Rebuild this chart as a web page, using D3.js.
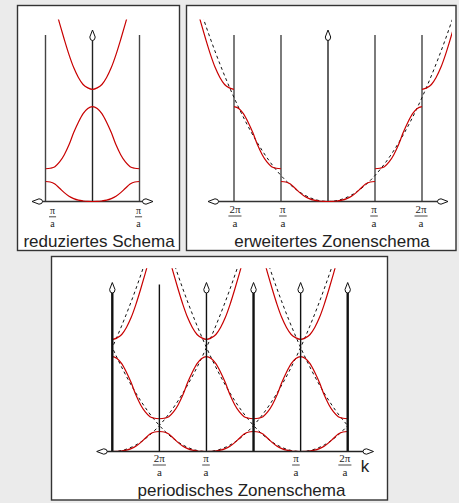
<!DOCTYPE html>
<html><head><meta charset="utf-8">
<script src="https://cdn.jsdelivr.net/npm/d3@7"></script>
<style>
html,body{margin:0;padding:0;background:#ebebeb;}
svg{display:block;}
</style></head><body>
<svg id="c" width="459" height="503"></svg>
<script>
// ---------- data (k in units of pi/a, E in units of the free-electron energy at k = pi/a) ----------
const kRed  = [0, 0.1, 0.2, 0.3, 0.4, 0.5, 0.6, 0.7, 0.8, 0.9, 1.0];
const band1 = [0, 0.004, 0.02, 0.05, 0.11, 0.2, 0.34, 0.51, 0.67, 0.75, 0.77];
const band2 = [3.65, 3.58, 3.38, 3.05, 2.65, 2.18, 1.8, 1.52, 1.34, 1.28, 1.26];
const band3 = [4.31, 4.37, 4.5, 4.77, 5.15, 5.65, 6.23, 6.85, 7.5, null, null];
const kFree = [0, 0.25, 0.5, 0.75, 1, 1.25, 1.5, 1.75, 2, 2.25, 2.5, 2.75];
const eFree = [0, 0.0625, 0.25, 0.5625, 1, 1.5625, 2.25, 3.0625, 4, 5.0625, 6.25, 7.5625];
const gammaCenters = [-2, 0, 2, 4, 6];          // periodic scheme: zone centres (in pi/a)

const lines1 = [-1, 1];                          // reduced scheme: zone edges
const labels1 = ["π", "π"];
const labelK1 = [-0.85, 0.98];
const lines2 = [-2, -1, 1, 2];                   // extended scheme
const labels2 = ["2π", "π", "π", "2π"];
const labelK2 = [-1.98, -0.96, 0.98, 1.98];
const lines3 = [0, 1, 2, 3, 4, 5];               // periodic scheme
const thick3 = [true, false, false, true, false, true];
const arrow3 = [true, false, true, true, true, true];
const labels3 = ["2π", "π", "π", "2π"];
const labelK3 = [1.0, 1.99, 3.9, 4.94];
const titles = ["reduziertes Schema", "erweitertes Zonenschema", "periodisches Zonenschema"];
const denom = "a";
const axisName = "k";

// ---------- helpers ----------
const svg = d3.select('#c');
const RED = '#c80000';
const SANS = "'Liberation Sans', Arial, Helvetica, sans-serif";
const SERIF = "'Liberation Serif', 'Times New Roman', serif";

function pts(ks, es, sign, offset) {
  const out = [];
  ks.forEach((k, i) => { if (es[i] != null) out.push([offset + sign * k, es[i]]); });
  return out.sort((a, b) => a[0] - b[0]);
}
function symPts(ks, es, offset) {
  const left = pts(ks, es, -1, offset), right = pts(ks, es, 1, offset);
  return left.concat(right.slice(1));
}
function arrow(g, x, y, dir) {
  const rot = dir === 'up' ? 0 : dir === 'left' ? -90 : 90;
  g.append('path').attr('d', "M0,0 L2.7,7 Q2.6,10.5 0,10.5 Q-2.6,10.5 -2.7,7 Z")
    .attr('transform', `translate(${x},${y}) rotate(${rot})`)
    .attr('fill', '#fff').attr('stroke', '#111').attr('stroke-width', 1);
}
function frac(g, x, yNum, yBar, yDen, num, fs) {
  const t = g.append('text').attr('x', x).attr('y', yNum).attr('text-anchor', 'middle')
    .attr('font-family', SERIF).attr('font-size', fs).attr('fill', '#222').text(num);
  const w = t.node().getComputedTextLength() + 2;
  g.append('line').attr('x1', x - w / 2).attr('x2', x + w / 2).attr('y1', yBar).attr('y2', yBar)
    .attr('stroke', '#333').attr('stroke-width', 0.9);
  g.append('text').attr('x', x).attr('y', yDen).attr('text-anchor', 'middle')
    .attr('font-family', SERIF).attr('font-size', fs).attr('fill', '#222').text(denom);
}
function clip(id, x0, x1, y0, y1) {
  svg.append('clipPath').attr('id', id).append('rect')
    .attr('x', x0).attr('y', y0).attr('width', x1 - x0).attr('height', y1 - y0);
}

// panels
const panels = [
  {x: 17.5, y: 5.5, w: 162, h: 245},
  {x: 186.5, y: 5.5, w: 269.5, h: 245},
  {x: 51.5, y: 256.5, w: 336, h: 243.5}
];
panels.forEach(p => svg.append('rect').attr('x', p.x).attr('y', p.y).attr('width', p.w).attr('height', p.h)
  .attr('fill', '#fff').attr('stroke', '#333').attr('stroke-width', 1.4));

// ---------- panel 1: reduced scheme ----------
{
  const g = svg.append('g');
  const x = d3.scaleLinear().domain([-1, 1]).range([45.5, 139.5]);
  const y = d3.scaleLinear().domain([0, 7]).range([201.5, 19.5]);
  const line = d3.line().x(d => x(d[0])).y(d => y(d[1])).curve(d3.curveMonotoneX);
  clip('c1', x(-1), x(1), y(7), y(0) + 2);
  lines1.forEach(k => g.append('line').attr('x1', x(k)).attr('x2', x(k)).attr('y1', 35).attr('y2', y(0))
    .attr('stroke', '#444').attr('stroke-width', 1.4));
  g.append('line').attr('x1', x(0)).attr('x2', x(0)).attr('y1', 40).attr('y2', y(0)).attr('stroke', '#222').attr('stroke-width', 1.4);
  g.append('line').attr('x1', 42).attr('x2', 143).attr('y1', y(0)).attr('y2', y(0)).attr('stroke', '#333').attr('stroke-width', 1.4);
  const cg = g.append('g').attr('clip-path', 'url(#c1)');
  [band1, band2, band3].forEach(b => cg.append('path').attr('d', line(symPts(kRed, b, 0)))
    .attr('fill', 'none').attr('stroke', RED).attr('stroke-width', 1.2));
  arrow(g, x(0), 30, 'up');
  arrow(g, 32, y(0), 'left');
  arrow(g, 153, y(0), 'right');
  labelK1.forEach((k, i) => frac(g, x(k), 214, 216.8, 227, labels1[i], 10));
  g.append('text').attr('x', 99).attr('y', 247).attr('text-anchor', 'middle').attr('font-family', SANS)
    .attr('font-size', 17).attr('fill', '#222').text(titles[0]);
}

// ---------- panel 2: extended zone scheme ----------
{
  const g = svg.append('g');
  const x = d3.scaleLinear().domain([-2, 2]).range([234, 422]);
  const y = d3.scaleLinear().domain([0, 7]).range([201.5, 19.5]);
  const line = d3.line().x(d => x(d[0])).y(d => y(d[1])).curve(d3.curveMonotoneX);
  clip('c2', 190, 452, y(7), y(0) + 2);
  lines2.forEach(k => g.append('line').attr('x1', x(k)).attr('x2', x(k)).attr('y1', 35).attr('y2', y(0))
    .attr('stroke', '#444').attr('stroke-width', 1.4));
  g.append('line').attr('x1', x(0)).attr('x2', x(0)).attr('y1', 40).attr('y2', y(0)).attr('stroke', '#222').attr('stroke-width', 1.4);
  g.append('line').attr('x1', 218).attr('x2', 438).attr('y1', y(0)).attr('y2', y(0)).attr('stroke', '#333').attr('stroke-width', 1.4);
  const cg = g.append('g').attr('clip-path', 'url(#c2)');
  cg.append('path').attr('d', line(symPts(kFree, eFree, 0))).attr('fill', 'none')
    .attr('stroke', '#111').attr('stroke-width', 1).attr('stroke-dasharray', '3,3');
  const segs = [symPts(kRed, band1, 0),
    pts(kRed, band2, 1, -2), pts(kRed, band2, -1, 2),
    pts(kRed, band3, -1, -2), pts(kRed, band3, 1, 2)];
  segs.forEach(s => cg.append('path').attr('d', line(s)).attr('fill', 'none').attr('stroke', RED).attr('stroke-width', 1.2));
  arrow(g, x(0), 30, 'up');
  arrow(g, 208, y(0), 'left');
  arrow(g, 448, y(0), 'right');
  labelK2.forEach((k, i) => frac(g, x(k), 212.5, 216, 226.5, labels2[i], 11));
  g.append('text').attr('x', 332).attr('y', 247).attr('text-anchor', 'middle').attr('font-family', SANS)
    .attr('font-size', 17).attr('fill', '#222').text(titles[1]);
}

// ---------- panel 3: periodic zone scheme ----------
{
  const g = svg.append('g');
  const x = d3.scaleLinear().domain([0, 5]).range([112.3, 347.7]);
  const y = d3.scaleLinear().domain([0, 7]).range([451.5, 269.5]);
  const line = d3.line().x(d => x(d[0])).y(d => y(d[1])).curve(d3.curveMonotoneX);
  clip('c3', x(0), x(5), y(7.05), y(0) + 2);
  const cg = g.append('g').attr('clip-path', 'url(#c3)');
  gammaCenters.forEach(c => {
    cg.append('path').attr('d', line(symPts(kFree, eFree, c))).attr('fill', 'none')
      .attr('stroke', '#111').attr('stroke-width', 1).attr('stroke-dasharray', '3,3');
  });
  gammaCenters.forEach(c => {
    [band1, band2, band3].forEach(b => cg.append('path').attr('d', line(symPts(kRed, b, c)))
      .attr('fill', 'none').attr('stroke', RED).attr('stroke-width', 1.2));
  });
  lines3.forEach((k, i) => g.append('line').attr('x1', x(k)).attr('x2', x(k))
    .attr('y1', arrow3[i] ? 290 : 284.5).attr('y2', y(0))
    .attr('stroke', '#111').attr('stroke-width', thick3[i] ? 2.4 : 1.4));
  g.append('line').attr('x1', 106).attr('x2', 364).attr('y1', y(0)).attr('y2', y(0)).attr('stroke', '#222').attr('stroke-width', 1.4);
  lines3.forEach((k, i) => { if (arrow3[i]) arrow(g, x(k), 282.5, 'up'); });
  arrow(g, 96.7, y(0), 'left');
  arrow(g, 373.5, y(0), 'right');
  labelK3.forEach((k, i) => frac(g, x(k), 461.5, 465, 476, labels3[i], 11));
  g.append('text').attr('x', 365).attr('y', 472).attr('text-anchor', 'middle').attr('font-family', SANS)
    .attr('font-size', 17).attr('fill', '#222').text(axisName);
  g.append('text').attr('x', 241.5).attr('y', 496).attr('text-anchor', 'middle').attr('font-family', SANS)
    .attr('font-size', 17).attr('fill', '#222').text(titles[2]);
}
</script>
</body></html>
